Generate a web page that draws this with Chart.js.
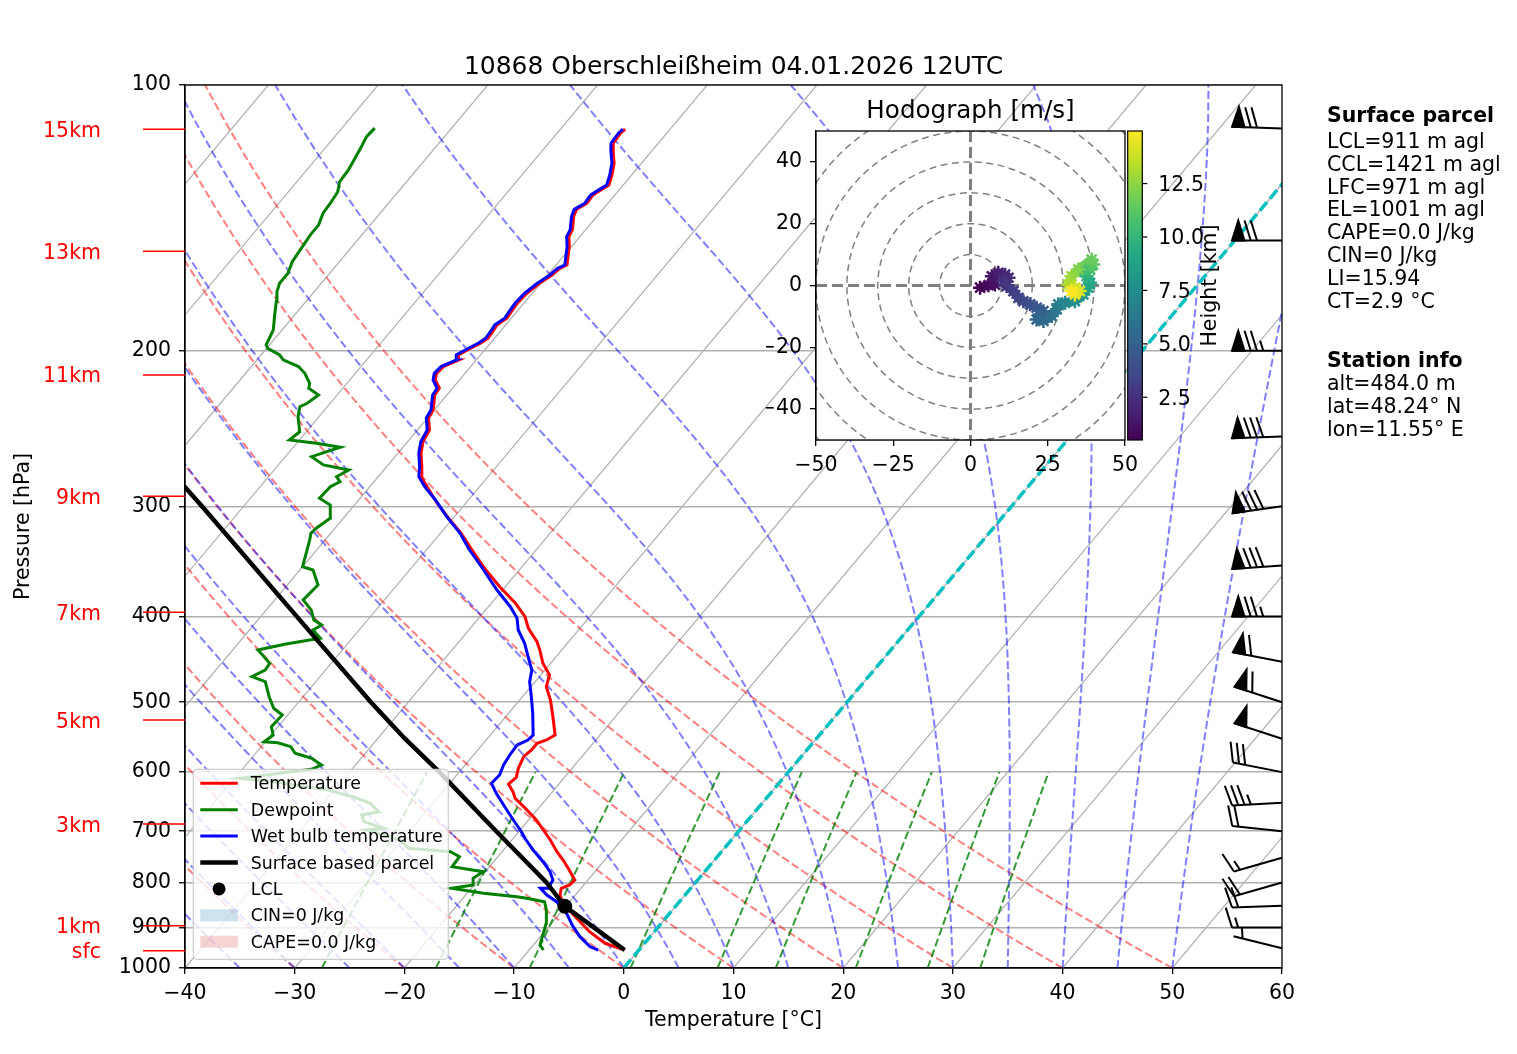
<!DOCTYPE html>
<html>
<head>
<meta charset="utf-8">
<title>10868 Oberschleißheim 04.01.2026 12UTC</title>
<script src="https://cdn.jsdelivr.net/npm/chart.js@4/dist/chart.umd.min.js"></script>
<style>
  html, body { margin: 0; padding: 0; background: #fff; }
  #wrap { position: relative; width: 1517px; height: 1054px; }
  #wrap canvas { position: absolute; left: 0; top: 0; }
</style>
</head>
<body>
<div id="wrap">
  <canvas id="skewt" width="1517" height="1054"></canvas>
  <canvas id="hodo" width="1517" height="1054"></canvas>
</div>
<script>
// sounding 10868 Oberschleissheim (T in degC, p in hPa)
const TITLE = '10868 Oberschleißheim 04.01.2026 12UTC';

const tempP = [954.2, 937.6, 909.7, 878.4, 844.8, 826.7, 812.4, 805.4, 795.0, 771.1, 754.6, 738.4, 716.2, 697.8, 679.8, 659.4, 642.4, 631.5, 618.9, 608.2, 594.1, 576.4, 566.4, 556.6, 551.8, 544.7, 519.3, 497.2, 480.2, 465.8, 451.8, 436.4, 427.0, 412.4, 400.1, 386.3, 370.0, 352.6, 333.3, 321.9, 309.5, 297.6, 285.0, 277.7, 270.5, 261.2, 253.5, 245.9, 238.4, 233.3, 224.4, 220.5, 215.8, 212.1, 208.4, 204.8, 202.2, 199.2, 196.1, 193.6, 189.4, 186.9, 183.7, 180.6, 176.7, 172.1, 167.7, 164.1, 161.3, 159.9, 152.4, 148.5, 145.9, 140.9, 138.3, 136.1, 133.2, 131.2, 129.8, 126.4, 122.6, 118.5, 116.4, 113.4, 112.2];
const tempT = [-1.3, -3.6, -5.9, -8.1, -10.5, -11.4, -11.8, -11.3, -11.2, -12.7, -13.8, -15.0, -16.5, -17.9, -19.3, -21.2, -22.9, -23.6, -24.6, -24.4, -24.9, -25.3, -25.1, -25.1, -24.5, -24.1, -25.7, -27.2, -28.6, -29.2, -30.7, -32.0, -32.9, -34.7, -35.9, -37.8, -40.5, -43.3, -46.3, -48.1, -50.4, -52.6, -54.8, -56.1, -56.8, -57.9, -58.6, -58.9, -59.9, -60.1, -61.1, -61.2, -62.2, -62.6, -62.5, -61.6, -62.0, -61.5, -60.9, -60.6, -60.7, -60.8, -60.4, -60.5, -60.6, -60.5, -60.1, -59.6, -59.4, -59.0, -60.2, -61.0, -61.2, -62.1, -62.4, -61.9, -62.0, -61.6, -61.3, -61.8, -62.5, -63.6, -64.1, -64.2, -64.1];

const wetP = [954.2, 946.0, 921.6, 893.9, 867.1, 841.2, 826.7, 812.4, 812.4, 795.0, 777.9, 757.9, 735.2, 716.2, 697.8, 679.8, 656.7, 634.1, 617.8, 604.5, 589.0, 573.8, 559.1, 551.8, 544.7, 514.7, 492.9, 474.0, 459.8, 440.1, 428.8, 414.2, 401.8, 389.8, 373.2, 351.2, 334.7, 321.9, 308.2, 295.1, 285.0, 277.7, 270.5, 261.2, 253.5, 245.9, 238.4, 233.3, 224.4, 220.5, 215.8, 212.1, 208.4, 204.8, 202.2, 199.2, 196.1, 193.6, 189.4, 186.9, 183.7, 180.6, 176.7, 172.1, 167.7, 164.1, 161.3, 159.9, 152.4, 148.5, 145.9, 140.9, 138.3, 136.1, 133.2, 131.2, 129.8, 126.4, 122.6, 118.5, 116.4, 113.4, 112.2];
const wetT = [-3.7, -4.7, -6.4, -8.0, -9.4, -11.2, -12.6, -13.7, -13.0, -13.2, -14.1, -15.5, -17.3, -18.7, -20.0, -21.4, -23.2, -25.0, -26.2, -26.1, -26.5, -26.7, -26.8, -26.2, -26.1, -27.8, -29.2, -30.5, -31.2, -32.9, -33.9, -35.5, -36.5, -38.0, -40.5, -43.7, -46.3, -48.2, -50.7, -53.0, -55.0, -56.3, -57.0, -58.1, -58.8, -59.1, -60.1, -60.3, -61.3, -61.4, -62.4, -62.8, -62.7, -61.8, -62.2, -61.7, -61.1, -60.8, -60.9, -61.0, -60.6, -60.7, -60.8, -60.7, -60.3, -59.8, -59.6, -59.2, -60.4, -61.2, -61.4, -62.3, -62.6, -62.1, -62.2, -61.8, -61.5, -62.0, -62.7, -63.8, -64.3, -64.4, -64.3];

const dewP = [954.2, 941.8, 913.5, 890.0, 859.6, 841.2, 833.8, 830.3, 823.0, 812.4, 805.4, 791.5, 777.9, 767.9, 748.1, 738.4, 731.9, 716.2, 697.8, 694.7, 682.8, 671.0, 665.3, 650.9, 639.8, 628.7, 615.2, 609.8, 595.6, 589.0, 578.8, 571.3, 561.5, 555.7, 554.3, 544.7, 533.0, 517.0, 508.0, 492.9, 474.0, 467.8, 459.8, 451.8, 442.1, 436.4, 429.6, 423.3, 414.2, 408.8, 403.5, 393.2, 383.0, 368.3, 354.2, 351.2, 327.6, 321.9, 317.7, 309.5, 299.0, 293.8, 285.0, 281.4, 277.7, 272.9, 269.3, 263.6, 257.2, 254.5, 252.4, 247.0, 237.5, 231.4, 229.3, 224.4, 220.5, 217.7, 212.1, 208.4, 204.8, 202.2, 198.7, 197.0, 189.4, 183.0, 175.9, 171.4, 167.7, 163.4, 158.5, 153.1, 147.8, 144.1, 139.7, 136.1, 132.1, 128.7, 124.8, 121.1, 117.4, 114.4, 111.9];
const dewT = [-8.7, -9.4, -10.0, -10.5, -11.5, -12.3, -14.2, -15.2, -18.5, -21.8, -20.1, -20.6, -20.2, -23.4, -23.5, -24.7, -28.8, -30.2, -34.0, -32.6, -34.9, -35.6, -34.3, -35.7, -37.8, -40.6, -46.2, -49.5, -43.7, -43.1, -44.5, -46.4, -47.3, -48.8, -50.1, -49.8, -50.6, -50.5, -51.8, -53.1, -54.6, -56.2, -55.5, -55.6, -56.9, -57.7, -55.6, -52.9, -54.2, -53.8, -54.9, -55.9, -57.4, -57.2, -58.8, -60.0, -61.4, -61.8, -61.7, -61.2, -62.2, -63.7, -63.6, -63.1, -63.8, -63.2, -65.9, -67.6, -65.7, -68.2, -70.9, -70.6, -71.9, -72.5, -72.1, -71.7, -73.1, -73.4, -74.6, -75.7, -77.6, -78.3, -79.9, -80.3, -80.8, -81.7, -82.7, -83.4, -83.8, -83.8, -84.3, -84.5, -84.7, -84.7, -85.2, -85.3, -85.5, -86.1, -86.2, -86.5, -86.8, -87.1, -87.0];

const parcelP = [954.2, 900, 851.4, 800, 700, 600, 550, 500, 400, 300, 265];
const parcelT = [-1.3, -5.8, -10.1, -13.6, -22.1, -31.8, -37.5, -43.4, -56.7, -73.8, -81.3];
const lclP = [851.4];
const lclT = [-10.1];

// wind barbs (knots, direction in degrees)
const windP = [950, 900, 850, 800, 750, 700, 650, 600, 550, 500, 450, 400, 350, 300, 250, 200, 150, 112];
const windSpd = [5, 15, 20, 20, 15, 20, 35, 30, 50, 60, 60, 75, 80, 80, 80, 75, 70, 70];
const windDir = [284, 270, 268, 254, 254, 276, 267, 281, 288, 288, 281, 270, 266, 262, 268, 270, 270, 272];

// height markers on the left
const heightLabels = ['sfc', '1km', '3km', '5km', '7km', '9km', '11km', '13km', '15km'];
const heightP = [955.9, 895.6, 687.0, 523.8, 395.5, 292.3, 213.0, 154.3, 112.2];

// axis ticks
const xTicks = [-40, -30, -20, -10, 0, 10, 20, 30, 40, 50, 60];
const pTicks = [100, 200, 300, 400, 500, 600, 700, 800, 900, 1000];

// background lines
const isoT = [-100, -90, -80, -70, -60, -50, -40, -30, -20, -10, 0, 10, 20, 30, 40, 50, 60];
const dryT0 = [-40, -30, -20, -10, 0, 10, 20, 30, 40, 50];
const moistT0 = [-40, -35, -30, -25, -20, -15, -10, -5, 0, 5, 10, 15, 20, 25, 30, 35, 40, 45, 50];
const mixW = [0.0004, 0.001, 0.002, 0.004, 0.007, 0.01, 0.016, 0.024, 0.032];
const mixP = [1000, 950, 900, 850, 800, 750, 700, 650, 600];

// hodograph (m/s) and height (km)
const hodoU = [3.1, 5.8, 7.9, 6.9, 9.0, 11.2, 12.3, 10.6, 11.7, 13.9, 15.5, 17.1, 19.3, 21.4, 23.6, 22.5, 21.4, 23.6, 26.3, 27.9, 28.4, 30.6, 33.8, 36.5, 38.1, 38.7, 37.6, 36.5, 38.7, 39.7, 39.2, 34.9, 32.7, 31.6, 33.8, 35.4, 33.8, 32.7];
const hodoV = [-0.7, 0.1, 0.3, 3.0, 4.1, 3.5, 2.5, 1.4, -0.2, -1.8, -4.0, -5.1, -6.1, -7.2, -8.3, -9.4, -11.0, -11.5, -9.9, -7.7, -6.1, -5.6, -5.1, -2.9, -0.7, 0.9, 3.0, 4.6, 5.2, 6.8, 8.4, 5.2, 3.0, 0.3, -0.7, -1.8, -2.9, -1.8];
const hodoH = [0.5, 0.8, 1.1, 1.4, 1.7, 2.0, 2.3, 2.5, 2.8, 3.1, 3.4, 3.7, 4.0, 4.3, 4.6, 4.9, 5.2, 5.5, 5.9, 6.3, 6.7, 7.1, 7.6, 8.1, 8.7, 9.2, 9.7, 10.2, 10.7, 11.2, 11.6, 12.2, 12.7, 13.2, 13.7, 14.2, 14.6, 15.0];
const hodoTicksX = [-50, -25, 0, 25, 50];
const hodoTicksY = [-40, -20, 0, 20, 40];
const hodoRings = [10, 20, 30, 40, 50, 60, 70];
const hodoHmin = 0.5, hodoHmax = 14.96;
const cbTicks = [2.5, 5.0, 7.5, 10.0, 12.5];

const parcelInfo = ['LCL=911 m agl', 'CCL=1421 m agl', 'LFC=971 m agl', 'EL=1001 m agl', 'CAPE=0.0 J/kg', 'CIN=0 J/kg', 'LI=15.94', 'CT=2.9 °C'];
const stationInfo = ['alt=484.0 m', 'lat=48.24° N', 'lon=11.55° E'];

const legendItems = [
  { label: 'Temperature', kind: 'line', color: 'red', width: 3 },
  { label: 'Dewpoint', kind: 'line', color: 'green', width: 3 },
  { label: 'Wet bulb temperature', kind: 'line', color: 'blue', width: 3 },
  { label: 'Surface based parcel', kind: 'line', color: 'black', width: 4.5 },
  { label: 'LCL', kind: 'dot', color: 'black' },
  { label: 'CIN=0 J/kg', kind: 'patch', color: 'rgba(31,119,180,0.22)' },
  { label: 'CAPE=0.0 J/kg', kind: 'patch', color: 'rgba(214,39,40,0.2)' },
];

const FONT = '"DejaVu Sans", sans-serif';
Chart.defaults.font.family = FONT;
Chart.defaults.color = '#000';

// skew-T transform: isotherms lean right by SKEW degC per decade of pressure
const SKEW = 67.6;
function skewPt(t, p) { return { x: t + SKEW * Math.log10(1000 / p), y: p }; }
function profile(ts, ps) { return ts.map((t, i) => skewPt(t, ps[i])); }

const curveP = [];
for (let p = 1000; p >= 100; p -= 10) curveP.push(p);

function dryLine(t0) {
  return curveP.map(p => skewPt((t0 + 273.15) * Math.pow(p / 1000, 0.2857) - 273.15, p));
}

function dTdp(T, p) {
  const tc = T - 273.15;
  const es = 6.112 * Math.exp(17.67 * tc / (tc + 243.5));
  const rs = 0.62196 * es / (p - es);
  const num = 287.04749 * T + 2.50084e6 * rs;
  const den = 1004.6662 + (2.50084e6 * 2.50084e6 * rs * 0.62196) / (287.04749 * T * T);
  return num / den / p;
}

function moistLine(t0) {
  let T = t0 + 273.15, p = 1000;
  const dp = -10, pts = [skewPt(t0, p)];
  while (p > 100) {
    const k1 = dTdp(T, p);
    const k2 = dTdp(T + 0.5 * dp * k1, p + 0.5 * dp);
    const k3 = dTdp(T + 0.5 * dp * k2, p + 0.5 * dp);
    const k4 = dTdp(T + dp * k3, p + dp);
    T += dp * (k1 + 2 * k2 + 2 * k3 + k4) / 6;
    p += dp;
    pts.push(skewPt(T - 273.15, p));
  }
  return pts;
}

function mixLine(w) {
  return mixP.map(p => {
    const e = w * p / (0.622 + w);
    const l = Math.log(e / 6.112);
    return skewPt(243.5 * l / (17.67 - l), p);
  });
}

function lineDs(data, color, width, dash, order) {
  return { data, showLine: true, borderColor: color, borderWidth: width, borderDash: dash, pointRadius: 0, order, fill: false };
}

const datasets = [];
isoT.forEach(t => datasets.push(lineDs([skewPt(t, 1000), skewPt(t, 100)], '#b0b0b0', 1.2, [], 30)));
dryT0.forEach(t0 => datasets.push(lineDs(dryLine(t0), 'rgba(255,0,0,0.5)', 2, [8, 3.5], 29)));
moistT0.forEach(t0 => datasets.push(lineDs(moistLine(t0), 'rgba(0,0,255,0.5)', 2, [8, 3.5], 28)));
mixW.forEach(w => datasets.push(lineDs(mixLine(w), 'rgba(0,128,0,0.8)', 2, [8, 3.5], 27)));
datasets.push(lineDs([skewPt(0, 1000), skewPt(0, 100)], '#00bfbf', 3.5, [11, 4.7], 6));
datasets.push(lineDs(profile(tempT, tempP), 'red', 3, [], 5));
datasets.push(lineDs(profile(dewT, dewP), 'green', 3, [], 4));
datasets.push(lineDs(profile(wetT, wetP), 'blue', 3, [], 3));
datasets.push(lineDs(profile(parcelT, parcelP), 'black', 4.5, [], 2));
datasets.push({ data: profile(lclT, lclP), showLine: false, pointRadius: 7, pointBackgroundColor: '#000', pointBorderColor: '#000', order: 1 });

function drawBarb(ctx, bx, by, spd, dir, L) {
  const r = dir * Math.PI / 180;
  const sx = Math.sin(r), sy = -Math.cos(r);   // toward the staff tip
  const qx = -sy, qy = sx;                     // side the feathers go
  const P = (along, side) => [bx + along * sx + side * qx, by + along * sy + side * qy];
  const spacing = 0.125 * L, fh = 0.4 * L, fw = 0.25 * L;
  let s = Math.round(spd / 5) * 5;
  const nFlags = Math.floor(s / 50); s -= nFlags * 50;
  const nFull = Math.floor(s / 10); s -= nFull * 10;
  const half = s >= 5;
  ctx.beginPath();
  const a = P(0, 0), b = P(L, 0);
  ctx.moveTo(a[0], a[1]); ctx.lineTo(b[0], b[1]); ctx.stroke();
  let off = 0;
  for (let i = 0; i < nFlags; i++) {
    const p1 = P(L - off, 0), p2 = P(L - off - fw / 2, fh), p3 = P(L - off - fw, 0);
    ctx.beginPath(); ctx.moveTo(p1[0], p1[1]); ctx.lineTo(p2[0], p2[1]); ctx.lineTo(p3[0], p3[1]); ctx.closePath();
    ctx.fill(); ctx.stroke();
    off += fw + spacing;
  }
  for (let i = 0; i < nFull; i++) {
    const p1 = P(L - off, 0), p2 = P(L - off + fw / 2, fh);
    ctx.beginPath(); ctx.moveTo(p1[0], p1[1]); ctx.lineTo(p2[0], p2[1]); ctx.stroke();
    off += spacing;
  }
  if (half) {
    if (off === 0) off = 1.5 * spacing;
    const p1 = P(L - off, 0), p2 = P(L - off + fw / 4, fh / 2);
    ctx.beginPath(); ctx.moveTo(p1[0], p1[1]); ctx.lineTo(p2[0], p2[1]); ctx.stroke();
  }
}

function drawLegend(ctx, a) {
  const w = 255, h = 190, x0 = a.left + 8.3, y0 = a.bottom - 8.7 - h;
  ctx.save();
  ctx.beginPath();
  ctx.roundRect(x0, y0, w, h, 4);
  ctx.fillStyle = 'rgba(255,255,255,0.8)';
  ctx.fill();
  ctx.strokeStyle = '#cccccc';
  ctx.lineWidth = 1.2;
  ctx.stroke();
  ctx.font = '17.4px ' + FONT;
  ctx.textAlign = 'left';
  ctx.textBaseline = 'alphabetic';
  legendItems.forEach((it, i) => {
    const cy = y0 + 14 + i * 26.4, sx = x0 + 7, ex = x0 + 44.5;
    if (it.kind === 'line') {
      ctx.strokeStyle = it.color; ctx.lineWidth = it.width;
      ctx.beginPath(); ctx.moveTo(sx, cy); ctx.lineTo(ex, cy); ctx.stroke();
    } else if (it.kind === 'dot') {
      ctx.fillStyle = it.color;
      ctx.beginPath(); ctx.arc((sx + ex) / 2, cy, 6.5, 0, 2 * Math.PI); ctx.fill();
    } else {
      ctx.fillStyle = it.color; ctx.fillRect(sx, cy - 6, ex - sx, 12);
    }
    ctx.fillStyle = '#000';
    ctx.fillText(it.label, x0 + 57.5, cy + 6);
  });
  ctx.restore();
}

const skewDecor = {
  id: 'skewDecor',
  afterDraw(chart) {
    const { ctx, chartArea: a, scales: { y } } = chart;
    ctx.save();
    ctx.strokeStyle = '#000';
    ctx.lineWidth = 1.3;
    ctx.strokeRect(a.left, a.top, a.right - a.left, a.bottom - a.top);

    ctx.fillStyle = '#000';
    ctx.font = '25px ' + FONT;
    ctx.textAlign = 'center';
    ctx.textBaseline = 'alphabetic';
    ctx.fillText(TITLE, (a.left + a.right) / 2, a.top - 11.5);

    // height markers
    ctx.strokeStyle = 'red'; ctx.fillStyle = 'red'; ctx.lineWidth = 1.5;
    ctx.font = '20.5px ' + FONT;
    ctx.textAlign = 'right';
    heightLabels.forEach((lab, i) => {
      const py = y.getPixelForValue(heightP[i]);
      ctx.beginPath(); ctx.moveTo(a.left - 42, py); ctx.lineTo(a.left, py); ctx.stroke();
      ctx.fillText(lab, a.left - 84, py + 7.5);
    });

    // wind barbs on the right edge
    ctx.strokeStyle = '#000'; ctx.fillStyle = '#000'; ctx.lineWidth = 2; ctx.lineJoin = 'miter';
    windP.forEach((p, i) => drawBarb(ctx, a.right, y.getPixelForValue(p), windSpd[i], windDir[i], 50));

    // info text
    const tx = a.right + 45;
    ctx.textAlign = 'left';
    ctx.fillStyle = '#000';
    ctx.font = 'bold 20.5px ' + FONT;
    ctx.fillText('Surface parcel', tx, 121.5);
    ctx.font = '20.5px ' + FONT;
    parcelInfo.forEach((s, i) => ctx.fillText(s, tx, 148 + i * 22.8));
    ctx.font = 'bold 20.5px ' + FONT;
    ctx.fillText('Station info', tx, 366.7);
    ctx.font = '20.5px ' + FONT;
    stationInfo.forEach((s, i) => ctx.fillText(s, tx, 390 + i * 22.8));

    drawLegend(ctx, a);
    ctx.restore();
  }
};

const minus = v => (v < 0 ? '\u2212' + Math.abs(v) : String(v));

new Chart(document.getElementById('skewt'), {
  type: 'scatter',
  data: { datasets },
  options: {
    responsive: false,
    animation: false,
    events: [],
    layout: { padding: { left: 0, top: 85, right: 235, bottom: 0 }, autoPadding: false },
    plugins: { legend: { display: false }, title: { display: false }, tooltip: { enabled: false } },
    scales: {
      x: {
        type: 'linear', position: 'bottom', min: -40, max: 60,
        afterBuildTicks: s => { s.ticks = xTicks.map(v => ({ value: v })); },
        afterFit: s => { s.height = 86; },
        grid: { drawOnChartArea: false, drawTicks: true, tickLength: 6, color: '#000', lineWidth: 1.3 },
        border: { display: true, color: '#000', width: 1.3 },
        ticks: { autoSkip: false, maxRotation: 0, padding: 7, font: { size: 20.5 }, color: '#000', callback: v => minus(v) },
        title: { display: true, text: 'Temperature [°C]', font: { size: 20.5 }, color: '#000', padding: { top: 0, bottom: 20.7 } }
      },
      y: {
        type: 'logarithmic', position: 'left', min: 100, max: 1000, reverse: true,
        afterBuildTicks: s => { s.ticks = pTicks.map(v => ({ value: v })); },
        afterFit: s => { s.width = 185; },
        grid: { drawOnChartArea: true, color: '#b0b0b0', lineWidth: 1.5, tickColor: '#000', tickLength: 6, tickWidth: 1.3 },
        border: { display: true, color: '#000', width: 1.3 },
        ticks: { autoSkip: false, padding: 8, font: { size: 20.5 }, color: '#000', callback: v => String(v) },
        title: { display: true, text: 'Pressure [hPa]', font: { size: 20.5 }, color: '#000', padding: { top: 11.7, bottom: 0 } }
      }
    }
  },
  plugins: [skewDecor]
});

// ---- hodograph inset ----
const VIRIDIS = [[68, 1, 84], [72, 36, 117], [65, 68, 135], [53, 95, 141], [42, 120, 142], [33, 145, 140], [34, 168, 132], [68, 191, 112], [122, 209, 81], [189, 223, 38], [253, 231, 37]];
function viridis(f) {
  f = Math.min(1, Math.max(0, f)) * 10;
  const i = Math.min(9, Math.floor(f)), t = f - i, c0 = VIRIDIS[i], c1 = VIRIDIS[i + 1];
  return 'rgb(' + [0, 1, 2].map(k => Math.round(c0[k] + (c1[k] - c0[k]) * t)).join(',') + ')';
}
const hNorm = h => (h - hodoHmin) / (hodoHmax - hodoHmin);
const hodoColors = hodoH.map(h => viridis(hNorm(h)));

const hodoDecor = {
  id: 'hodoDecor',
  beforeDatasetsDraw(chart) {
    const { ctx, chartArea: a, scales: { x, y } } = chart;
    ctx.save();
    ctx.fillStyle = '#fff';
    ctx.fillRect(a.left, a.top, a.right - a.left, a.bottom - a.top);
    ctx.beginPath(); ctx.rect(a.left, a.top, a.right - a.left, a.bottom - a.top); ctx.clip();
    const cx = x.getPixelForValue(0), cy = y.getPixelForValue(0);
    ctx.strokeStyle = '#808080';
    ctx.lineWidth = 1.5;
    ctx.setLineDash([7, 4.5]);
    hodoRings.forEach(r => {
      ctx.beginPath(); ctx.arc(cx, cy, x.getPixelForValue(r) - cx, 0, 2 * Math.PI); ctx.stroke();
    });
    ctx.lineWidth = 3;
    ctx.setLineDash([11, 5]);
    ctx.beginPath();
    ctx.moveTo(a.left, cy); ctx.lineTo(a.right, cy);
    ctx.moveTo(cx, a.top); ctx.lineTo(cx, a.bottom);
    ctx.stroke();
    ctx.restore();
  },
  afterDraw(chart) {
    const { ctx, chartArea: a } = chart;
    ctx.save();
    ctx.strokeStyle = '#000';
    ctx.lineWidth = 1.3;
    ctx.strokeRect(a.left, a.top, a.right - a.left, a.bottom - a.top);

    ctx.fillStyle = '#000';
    ctx.font = '24.6px ' + FONT;
    ctx.textAlign = 'center';
    ctx.textBaseline = 'alphabetic';
    ctx.fillText('Hodograph [m/s]', (a.left + a.right) / 2, a.top - 13.5);

    // colorbar
    const cbL = a.right + 2.7, cbR = a.right + 17.3;
    const hy = h => a.bottom - hNorm(h) * (a.bottom - a.top);
    const g = ctx.createLinearGradient(0, a.bottom, 0, a.top);
    VIRIDIS.forEach((c, i) => g.addColorStop(i / 10, 'rgb(' + c.join(',') + ')'));
    ctx.fillStyle = g;
    ctx.fillRect(cbL, a.top, cbR - cbL, a.bottom - a.top);
    ctx.lineWidth = 1.2;
    ctx.strokeRect(cbL, a.top, cbR - cbL, a.bottom - a.top);
    ctx.fillStyle = '#000';
    ctx.font = '20.5px ' + FONT;
    ctx.textAlign = 'left';
    cbTicks.forEach(h => {
      const py = hy(h);
      ctx.beginPath(); ctx.moveTo(cbR, py); ctx.lineTo(cbR + 5, py); ctx.stroke();
      ctx.fillText(h.toFixed(1), cbR + 16, py + 7.5);
    });
    ctx.translate(cbR + 68, (a.top + a.bottom) / 2);
    ctx.rotate(-Math.PI / 2);
    ctx.textAlign = 'center';
    ctx.textBaseline = 'middle';
    ctx.fillText('Height [km]', 0, 0);
    ctx.restore();
  }
};

new Chart(document.getElementById('hodo'), {
  type: 'scatter',
  data: {
    datasets: [{
      data: hodoU.map((u, i) => ({ x: u, y: hodoV[i] })),
      showLine: true,
      borderWidth: 9,
      borderColor: hodoColors[0],
      segment: { borderColor: c => hodoColors[c.p0DataIndex] },
      pointStyle: 'star',
      pointRadius: 7,
      pointBorderWidth: 2.5,
      pointBorderColor: hodoColors,
      pointBackgroundColor: hodoColors
    }]
  },
  options: {
    responsive: false,
    animation: false,
    events: [],
    layout: { padding: { left: 766, top: 131, right: 392, bottom: 574 }, autoPadding: false },
    plugins: { legend: { display: false }, title: { display: false }, tooltip: { enabled: false } },
    scales: {
      x: {
        type: 'linear', min: -50, max: 50,
        afterBuildTicks: s => { s.ticks = hodoTicksX.map(v => ({ value: v })); },
        afterFit: s => { s.height = 40; },
        grid: { drawOnChartArea: false, tickLength: 6, color: '#000', lineWidth: 1.3 },
        border: { display: true, color: '#000', width: 1.3 },
        ticks: { autoSkip: false, maxRotation: 0, padding: 7, font: { size: 20.5 }, color: '#000', callback: v => minus(v) }
      },
      y: {
        type: 'linear', min: -50, max: 50,
        afterBuildTicks: s => { s.ticks = hodoTicksY.map(v => ({ value: v })); },
        afterFit: s => { s.width = 50; },
        grid: { drawOnChartArea: false, tickLength: 6, color: '#000', lineWidth: 1.3 },
        border: { display: true, color: '#000', width: 1.3 },
        ticks: { autoSkip: false, padding: 8, font: { size: 20.5 }, color: '#000', callback: v => minus(v) }
      }
    }
  },
  plugins: [hodoDecor]
});
</script>
</body>
</html>
